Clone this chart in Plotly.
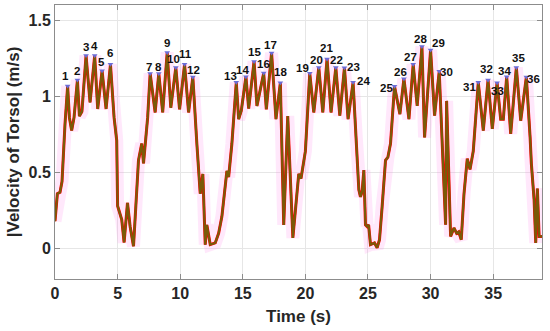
import plotly.graph_objects as go

# Torso speed time series (s, m/s)
time_s = [0.0, 0.08, 0.19, 0.4, 0.56, 0.8, 1.01, 1.15, 1.33, 1.52, 1.79, 1.95, 2.15, 2.48, 2.8, 3.17, 3.41, 3.76,
          4.08, 4.43, 4.72, 4.93, 5.0, 5.33, 5.52, 5.79, 6.0, 6.27, 6.67, 6.93, 7.07, 7.4, 7.6, 8.0, 8.29, 8.6,
          8.96, 9.25, 9.65, 9.95, 10.35, 10.67, 11.01, 11.33, 11.47, 11.6, 11.81, 12.0, 12.13, 12.4, 12.8, 13.07,
          13.33, 13.73, 13.87, 14.13, 14.48, 14.67, 14.88, 15.25, 15.47, 15.9, 16.13, 16.67, 16.88, 17.3, 17.65,
          18.0, 18.27, 18.59, 19.0, 19.47, 19.65, 20.0, 20.35, 20.67, 21.07, 21.39, 21.73, 22.05, 22.43, 22.75,
          23.12, 23.41, 23.81, 24.08, 24.27, 24.4, 24.53, 24.67, 24.8, 24.93, 25.05, 25.2, 25.52, 25.73, 25.92,
          26.13, 26.4, 26.59, 26.8, 27.12, 27.55, 27.87, 28.27, 28.61, 28.93, 29.31, 29.52, 30.0, 30.32, 30.69,
          30.93, 31.2, 31.28, 31.6, 31.87, 32.08, 32.25, 32.45, 32.67, 32.93, 33.15, 33.41, 33.81, 34.21, 34.59,
          34.93, 35.31, 35.6, 35.81, 36.08, 36.4, 36.85, 37.2, 37.65, 37.95, 38.05, 38.27, 38.4, 38.53, 38.67, 38.9]
speed = [0.18, 0.28, 0.36, 0.37, 0.44, 0.82, 1.068, 0.86, 0.775, 0.86, 1.107, 0.87, 0.9, 1.268, 0.96, 1.268, 0.917, 1.168,
         0.917, 1.21, 0.86, 0.71, 0.28, 0.19, 0.04, 0.30, 0.145, 0.015, 0.58, 0.69, 0.56, 0.86, 1.15, 0.894, 1.15, 0.894,
         1.288, 0.925, 1.19, 0.915, 1.21, 0.894, 1.127, 0.69, 0.54, 0.36, 0.49, 0.026, 0.155, 0.026, 0.037, 0.1,
         0.21, 0.51, 0.47, 0.69, 1.092, 0.85, 0.905, 1.129, 0.92, 1.229, 0.937, 1.153, 0.915, 1.285, 0.85,
         1.09, 0.155, 0.87, 0.07, 0.49, 0.46, 0.64, 1.151, 0.894, 1.19, 0.894, 1.246, 0.894, 1.19, 0.873,
         1.188, 0.85, 1.092, 0.71, 0.386, 0.34, 0.373, 0.515, 0.156, 0.145, 0.156, 0.026, 0.037, 0.005, 0.058,
         0.276, 0.58, 0.6, 0.69, 1.066, 0.883, 1.116, 0.85, 1.21, 0.937, 1.327, 0.73, 1.305, 0.873, 1.164,
         0.71, 0.156, 0.97, 0.08, 0.135, 0.1, 0.11, 0.058, 0.36, 0.59, 0.52, 0.64, 1.092, 0.775, 1.107,
         0.786, 1.09, 0.85, 0.85, 1.129, 0.754, 1.19, 0.84, 1.127, 0.73, 0.558, 0.32, 0.037, 0.394, 0.08, 0.08]

# Detected peaks
peak_t = [1.01, 1.79, 2.48, 3.17, 3.76, 4.43, 7.6, 8.29, 8.96, 9.65, 10.35, 11.01, 14.48, 15.25, 15.9, 16.67, 17.3, 18.0,
          20.35, 21.07, 21.73, 22.43, 23.12, 23.81, 27.12, 27.87, 28.61, 29.31, 30.0, 30.69, 33.81, 34.59, 35.31, 36.08,
          36.85, 37.65]
peak_v = [1.068, 1.107, 1.268, 1.268, 1.168, 1.21, 1.15, 1.15, 1.288, 1.19, 1.21, 1.127, 1.092, 1.129, 1.229, 1.153,
          1.285, 1.09, 1.151, 1.19, 1.246, 1.19, 1.188, 1.092, 1.066, 1.116, 1.21, 1.327, 1.305, 1.164, 1.092, 1.107,
          1.09, 1.129, 1.19, 1.127]
peak_labels = [str(i) for i in range(1, 37)]

x_ticks = [0, 5, 10, 15, 20, 25, 30, 35]
y_ticks = [0, 0.5, 1, 1.5]
y_tick_text = ["0", "0.5", "1", "1.5"]

# label offsets in pixels (style only)
label_dx = [-2, 0, 0, 0, -1, 0, -1, 0, 0, -2, 1, 1, -6, -3, 0, 0, -1, 0,
            -7, -2, -1, 1, 9, 10, -8, -3, -3, -1, 8, 7, -9, -2, 0, -2, 2, 7]
label_dy = [9, 8, 8, 9, 8, 10, 6, 6, 8, 7, 9, 6, 5, 6, 8, 8, 7, 10,
            4, 6, 10, 6, 0, 0, -3, 6, 6, 7, 6, -2, -6, 10, -9, 5, 8, -3]

font = "Arial, Liberation Sans, sans-serif"
fig = go.Figure()
fig.add_trace(go.Scatter(x=time_s, y=speed, mode="lines", line=dict(color="rgba(255,130,235,0.18)", width=13),
                         hoverinfo="skip", showlegend=False))
fig.add_trace(go.Scatter(x=time_s, y=speed, mode="lines", line=dict(color="#ff0000", width=3.0), showlegend=False))
fig.add_trace(go.Scatter(x=time_s, y=speed, mode="lines", line=dict(color="#7a5a08", width=2.2), showlegend=False))
fig.add_trace(go.Scatter(x=peak_t, y=peak_v, mode="markers", cliponaxis=False,
                         marker=dict(symbol="triangle-down", size=5, color="#6b6bd6"), showlegend=False))

for t, v, lab, dx, dy in zip(peak_t, peak_v, peak_labels, label_dx, label_dy):
    fig.add_annotation(x=t, y=v, text=lab, showarrow=False, xanchor="center", yanchor="middle",
                       xshift=dx, yshift=dy + 1,
                       font=dict(family=font, size=11.5, color="#111111", weight="bold"))

axis_common = dict(showline=True, linecolor="#8c8c8c", linewidth=1, mirror="ticks", ticks="inside", ticklen=5,
                   tickcolor="#8c8c8c", showgrid=True, gridcolor="#e6e6e6", gridwidth=1, zeroline=False,
                   automargin=False,
                   tickfont=dict(family=font, size=16, color="#262626", weight="bold"))
fig.update_xaxes(range=[0, 38.9], tickvals=x_ticks, title=dict(text="Time (s)", standoff=8,
                 font=dict(family=font, size=17, color="#262626", weight="bold")), **axis_common)
fig.update_yaxes(range=[-0.2, 1.6], tickvals=y_ticks, ticktext=y_tick_text,
                 title=dict(text="|Velocity of Torso| (m/s)", standoff=4,
                            font=dict(family=font, size=17, color="#262626", weight="bold")), **axis_common)
fig.update_layout(width=550, height=331, margin=dict(l=55, r=8, t=5, b=52),
                  plot_bgcolor="white", paper_bgcolor="white")
fig.write_html("out.html", config={"displayModeBar": False},
               post_script="document.body.style.margin='0';document.body.style.overflow='hidden';")
